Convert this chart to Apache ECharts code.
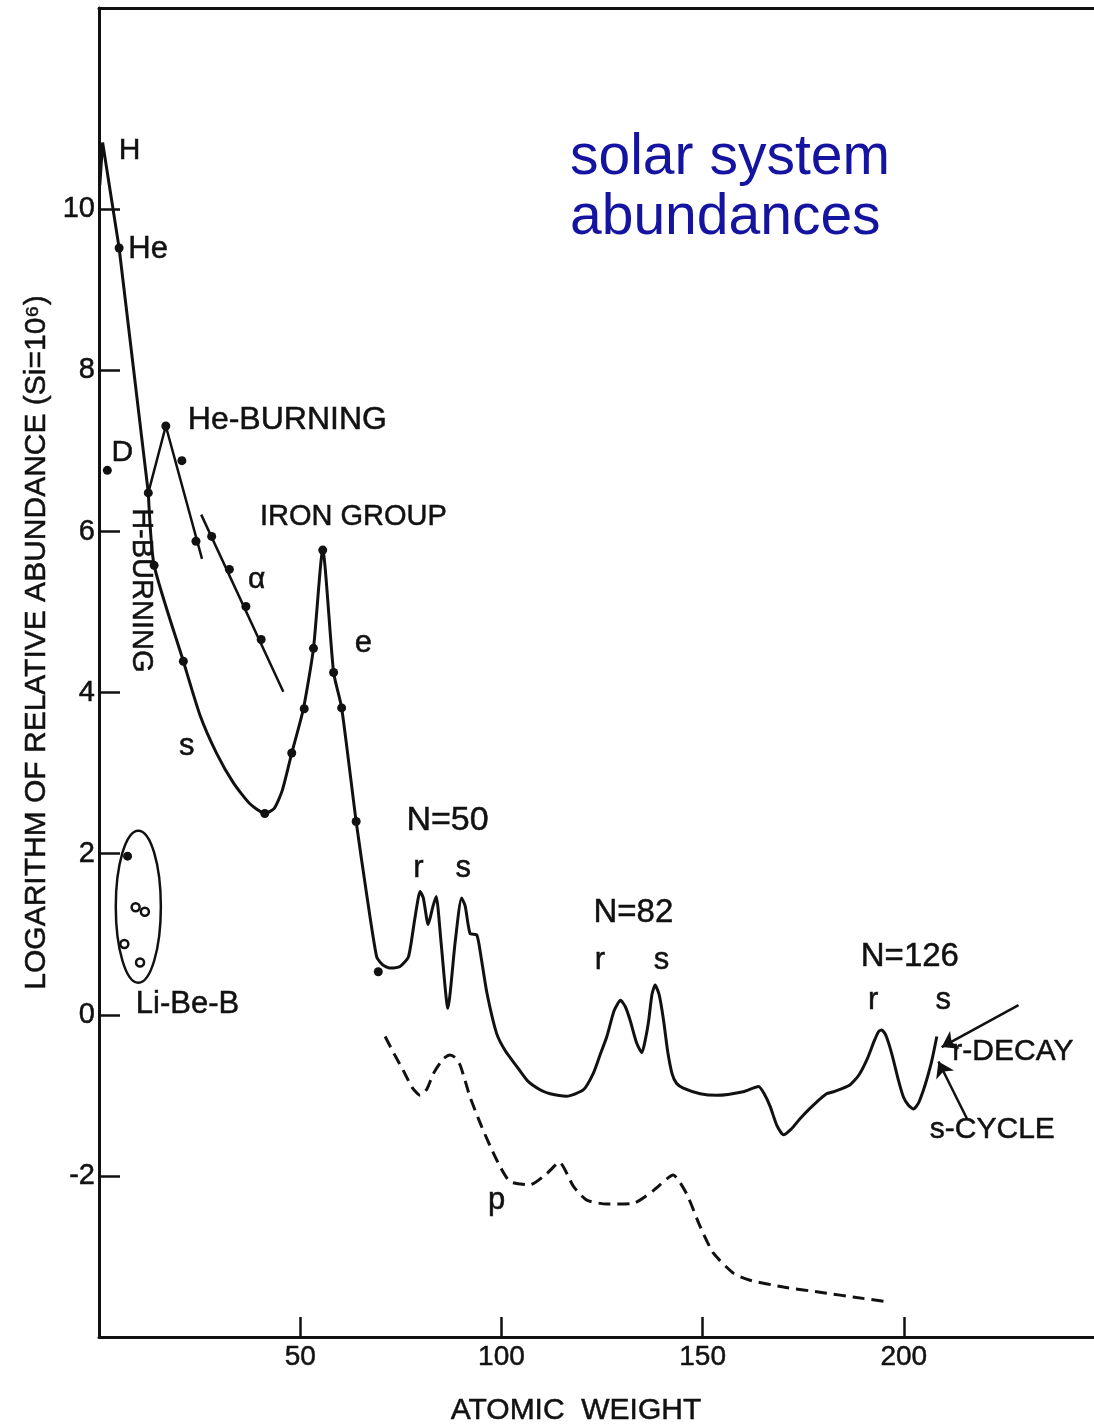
<!DOCTYPE html>
<html>
<head>
<meta charset="utf-8">
<script src="https://cdn.jsdelivr.net/npm/echarts@6/dist/echarts.min.js"></script>
<style>
  html, body { margin: 0; padding: 0; background: #ffffff; }
  #chart { width: 1094px; height: 1427px; }
</style>
</head>
<body>
<div id="chart"></div>
<script>
// Abundance curve: [atomic weight, log10 relative abundance (Si = 1e6)]
const hydrogenLine = [[0.2, 10.3], [0.9, 10.83], [5.0, 9.52], [12.25, 6.48]];

const mainCurve = [
  [12.25, 6.48], [13.7, 5.58], [20.96, 4.39], [25.1, 3.72], [29.2, 3.25], [33.4, 2.88],
  [37.5, 2.62], [41.2, 2.50], [43.5, 2.56], [45.5, 2.78], [47.9, 3.25], [50.8, 3.80],
  [53.3, 4.55], [55.6, 5.77], [58.3, 4.25], [60.3, 3.81], [63.9, 2.40], [66.5, 1.50],
  [69.0, 0.72], [70.5, 0.62], [72.3, 0.58], [74.8, 0.60], [76.9, 0.72], [78.5, 1.20],
  [79.8, 1.53], [80.6, 1.45], [81.8, 1.12], [83.0, 1.35], [83.8, 1.47], [85.0, 0.90],
  [86.7, 0.08], [88.5, 0.90], [90.1, 1.45], [91.0, 1.35], [92.2, 1.01], [93.9, 0.99],
  [95.0, 0.70], [96.4, 0.27], [98.8, -0.23], [101.0, -0.45], [103.8, -0.64], [106.5, -0.82],
  [109.6, -0.93], [112.1, -0.98], [116.2, -1.01], [120.4, -0.93], [122.8, -0.73], [124.5, -0.50],
  [126.2, -0.27], [128.0, 0.05], [129.6, 0.18], [130.8, 0.10], [132.0, -0.07], [133.6, -0.35],
  [134.9, -0.47], [135.8, -0.30], [136.6, -0.07], [137.4, 0.25], [138.2, 0.37], [139.2, 0.25],
  [140.3, -0.07], [141.3, -0.45], [142.4, -0.73], [143.5, -0.85], [145.2, -0.91], [149.4, -0.98],
  [153.5, -1.00], [160.1, -0.955], [163.9, -0.89], [165.3, -0.98], [166.8, -1.14], [168.5, -1.38],
  [170.1, -1.49], [172.0, -1.42], [174.2, -1.29], [176.3, -1.18], [178.4, -1.08], [180.8, -0.98],
  [182.5, -0.955], [186.6, -0.87], [188.8, -0.75], [190.8, -0.56], [192.6, -0.33], [193.7, -0.21],
  [194.5, -0.19], [195.4, -0.24], [196.4, -0.38], [197.4, -0.56], [198.7, -0.82], [199.9, -1.02],
  [201.1, -1.12], [202.4, -1.17], [203.6, -1.10], [204.9, -0.93], [206.0, -0.75], [207.0, -0.56],
  [208.2, -0.27]
];

// He-burning branch and the alpha-process line
const heBurningLine = [[12.25, 6.48], [16.6, 7.31], [25.6, 5.66]];
const alphaLine = [[25.4, 6.21], [45.8, 4.01]];

// p-process (dashed)
const pProcessCurve = [
  [71.1, -0.27], [73.5, -0.50], [75.6, -0.69], [77.8, -0.90], [79.8, -1.00], [81.5, -0.92],
  [83.1, -0.73], [85.5, -0.55], [87.2, -0.50], [88.5, -0.53], [89.7, -0.62], [91.0, -0.82],
  [92.2, -1.02], [95.1, -1.39], [98.8, -1.80], [102.1, -2.07], [107.1, -2.11], [111.3, -1.97],
  [114.4, -1.83], [117.9, -2.13], [121.2, -2.30], [126.2, -2.35], [132.8, -2.34], [137.8, -2.18],
  [142.7, -1.99], [146.0, -2.22], [149.4, -2.63], [152.7, -2.96], [157.7, -3.21], [161.4, -3.29],
  [170.1, -3.38], [180.0, -3.45], [188.3, -3.51], [195.4, -3.56]
];

// measured points
const mainDots = [
  [5.0, 9.52], [12.25, 6.48], [13.7, 5.58], [20.96, 4.39], [41.2, 2.50], [47.9, 3.25],
  [51.0, 3.80], [53.3, 4.55], [55.6, 5.77], [58.3, 4.25], [60.3, 3.81], [63.9, 2.40], [69.4, 0.535]
];
const heBurningDots = [[16.6, 7.31], [20.6, 6.88], [24.1, 5.88]];
const alphaDots = [[28.0, 5.94], [32.4, 5.53], [36.5, 5.07], [40.3, 4.66]];
const deuteriumDot = [[2.07, 6.76]];
const liBeBFilled = [[7.1, 1.97]];
const liBeBOpen = [[9.1, 1.335], [11.4, 1.28], [6.3, 0.88], [10.2, 0.65]];

// axis ticks
const xTicks = [50, 100, 150, 200];
const yTicks = [-2, 0, 2, 4, 6, 8, 10];

// annotations: [text, atomic weight, log abundance, font size]
const annotations = [
  ['H', 7.6, 10.73, 30], ['He', 12.2, 9.50, 31], ['D', 5.8, 6.98, 30],
  ['He-BURNING', 46.8, 7.38, 32], ['IRON GROUP', 63.2, 6.18, 29],
  ['α', 39.2, 5.40, 30], ['e', 65.7, 4.61, 31], ['s', 21.8, 3.33, 31],
  ['Li-Be-B', 22.0, 0.13, 31],
  ['N=50', 86.6, 2.41, 34], ['r', 79.4, 1.82, 31], ['s', 90.5, 1.82, 31],
  ['N=82', 132.8, 1.26, 33], ['r', 124.5, 0.68, 31], ['s', 139.8, 0.68, 31],
  ['N=126', 201.5, 0.72, 33], ['r', 192.4, 0.18, 31], ['s', 209.8, 0.18, 31],
  ['r-DECAY', 227.1, -0.46, 30], ['s-CYCLE', 222.0, -1.43, 30], ['p', 98.8, -2.30, 31]
];

const INK = '#111111';
const FONT = '"Liberation Sans", Arial, sans-serif';

const chart = echarts.init(document.getElementById('chart'), null, { renderer: 'canvas' });

const lineBase = { type: 'line', showSymbol: false, symbol: 'none', silent: true, z: 3 };
const dotBase = { type: 'scatter', symbol: 'circle', symbolSize: 9, silent: true, z: 4,
  itemStyle: { color: INK, opacity: 1 } };

chart.setOption({
  animation: false,
  backgroundColor: '#ffffff',
  grid: { left: 99, top: 8, width: 1000, height: 1329, show: false, outerBoundsMode: 'none' },
  xAxis: [{
    type: 'value', min: 0, max: 248.5, interval: 50, position: 'bottom',
    name: 'ATOMIC  WEIGHT', nameLocation: 'middle', nameGap: 59,
    nameTextStyle: { fontFamily: FONT, fontSize: 30, color: INK, padding: [0, 46, 0, 0],
      textBorderColor: INK, textBorderWidth: 0.5 },
    axisLine: { show: true, onZero: false, lineStyle: { color: INK, width: 3 } },
    axisTick: { show: true, inside: true, length: 20, customValues: xTicks,
      lineStyle: { color: INK, width: 2.5 } },
    axisLabel: { show: true, customValues: xTicks, margin: 6,
      fontFamily: FONT, fontSize: 28, color: INK, textBorderColor: INK, textBorderWidth: 0.5 },
    splitLine: { show: false }
  }, {
    // top frame line
    type: 'value', min: 0, max: 248.5, position: 'top',
    axisLine: { show: true, onZero: false, lineStyle: { color: INK, width: 3 } },
    axisTick: { show: false }, axisLabel: { show: false }, splitLine: { show: false }
  }],
  yAxis: {
    type: 'value', min: -4, max: 12.5, interval: 2,
    name: 'LOGARITHM OF RELATIVE ABUNDANCE (Si=10⁶)', nameLocation: 'middle',
    nameRotate: 90, nameGap: 47,
    nameTextStyle: { fontFamily: FONT, fontSize: 30, color: INK, padding: [0, 0, 0, 60],
      textBorderColor: INK, textBorderWidth: 0.5 },
    axisLine: { show: true, onZero: false, lineStyle: { color: INK, width: 3 } },
    axisTick: { show: true, inside: true, length: 21, customValues: yTicks,
      lineStyle: { color: INK, width: 2.5 } },
    axisLabel: { show: true, customValues: yTicks, margin: 4,
      fontFamily: FONT, fontSize: 29, color: INK, textBorderColor: INK, textBorderWidth: 0.5 },
    splitLine: { show: false }
  },
  series: [
    Object.assign({}, lineBase, { name: 'H-He', data: hydrogenLine,
      lineStyle: { color: INK, width: 3 } }),
    Object.assign({}, lineBase, { name: 'abundance', data: mainCurve, smooth: 0.2,
      lineStyle: { color: INK, width: 3 },
      markLine: {
        silent: true, symbol: ['none', 'arrow'], symbolSize: 15,
        label: { show: false },
        lineStyle: { color: INK, width: 2.5, type: 'solid' },
        data: [
          [{ coord: [228.5, 0.12] }, { coord: [209.4, -0.40] }],
          [{ coord: [215.7, -1.29] }, { coord: [208.6, -0.58] }]
        ]
      } }),
    Object.assign({}, lineBase, { name: 'He-burning', data: heBurningLine,
      lineStyle: { color: INK, width: 2.5 } }),
    Object.assign({}, lineBase, { name: 'alpha', data: alphaLine,
      lineStyle: { color: INK, width: 2.5 } }),
    Object.assign({}, lineBase, { name: 'p', data: pProcessCurve, smooth: 0.2,
      lineStyle: { color: INK, width: 3, type: [12, 7] } }),
    Object.assign({}, dotBase, { name: 'points', data: mainDots }),
    Object.assign({}, dotBase, { name: 'He-burning points', data: heBurningDots }),
    Object.assign({}, dotBase, { name: 'alpha points', data: alphaDots }),
    Object.assign({}, dotBase, { name: 'D', data: deuteriumDot }),
    Object.assign({}, dotBase, { name: 'Li', data: liBeBFilled, symbolSize: 9 }),
    Object.assign({}, dotBase, { name: 'Be-B', data: liBeBOpen, symbolSize: 8,
      itemStyle: { color: '#ffffff', borderColor: INK, borderWidth: 2.5, opacity: 1 } })
  ]
});

// annotation layer placed through the cartesian coordinate system
function px(a, l) { return chart.convertToPixel({ gridIndex: 0 }, [a, l]); }

const graphics = annotations.map(function (t) {
  const p = px(t[1], t[2]);
  return { type: 'text', x: p[0], y: p[1], silent: true, z: 10,
    style: { text: t[0], fill: INK, stroke: INK, lineWidth: 0.5, font: t[3] + 'px ' + FONT,
      textAlign: 'center', textVerticalAlign: 'middle', align: 'center', verticalAlign: 'middle' } };
});

// H-burning label, reading downwards
const hb = px(10.4, 5.27);
graphics.push({ type: 'text', x: hb[0], y: hb[1], rotation: -Math.PI / 2, silent: true, z: 10,
  style: { text: 'H-BURNING', fill: INK, stroke: INK, lineWidth: 0.5, font: '29px ' + FONT,
    textAlign: 'center', textVerticalAlign: 'middle', align: 'center', verticalAlign: 'middle' } });

// outline around the Li, Be, B points
const ellipseCenter = [9.77, 1.342];
const ellipseRadii = [5.6, 0.944];
const ec = px(ellipseCenter[0], ellipseCenter[1]);
const ee = px(ellipseCenter[0] + ellipseRadii[0], ellipseCenter[1] + ellipseRadii[1]);
graphics.push({ type: 'ellipse', silent: true, z: 5,
  shape: { cx: ec[0], cy: ec[1], rx: Math.abs(ee[0] - ec[0]), ry: Math.abs(ee[1] - ec[1]) },
  style: { fill: 'none', stroke: INK, lineWidth: 2.5 } });

// title
graphics.push({ type: 'text', x: 570, y: 128, silent: true, z: 10,
  style: { text: 'solar system\nabundances', fill: '#1414a0',
    font: '57px ' + FONT, lineHeight: 60,
    textAlign: 'left', textVerticalAlign: 'top', align: 'left', verticalAlign: 'top' } });

chart.setOption({ graphic: graphics });
</script>
</body>
</html>
